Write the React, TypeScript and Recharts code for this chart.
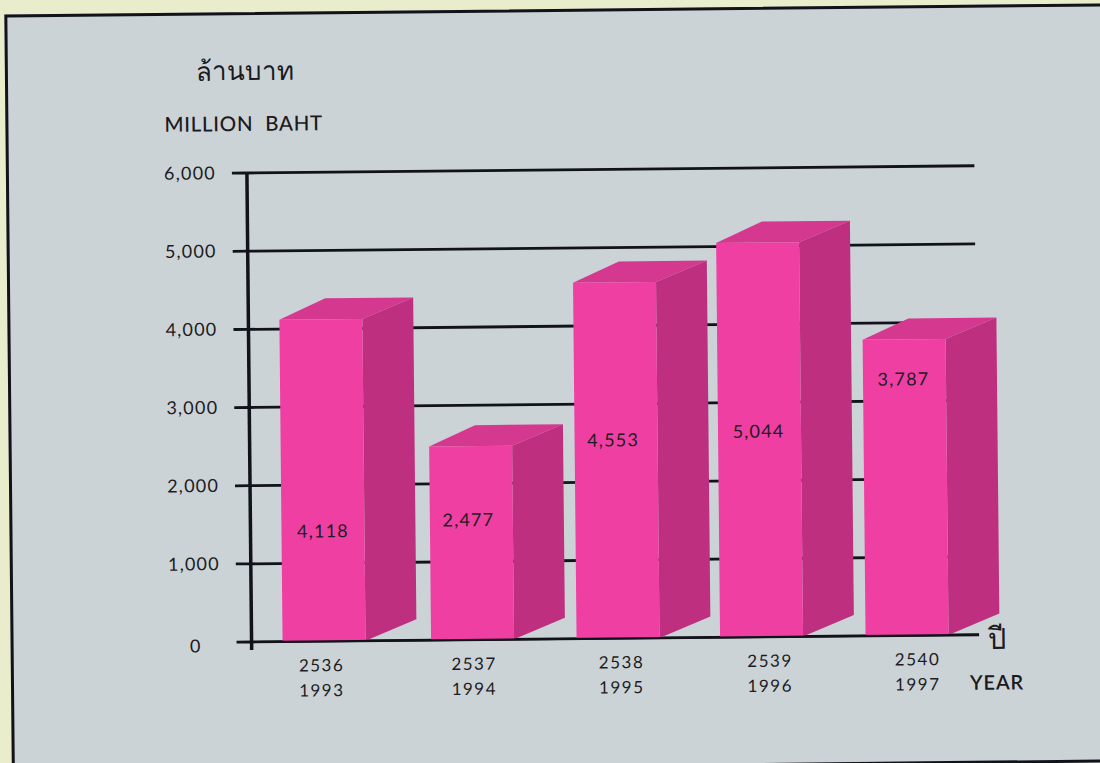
import React from 'react';
import { BarChart, Bar, XAxis, YAxis, CartesianGrid } from 'recharts';

const buddhistYears = ['2536', '2537', '2538', '2539', '2540'];
const christianYears = ['1993', '1994', '1995', '1996', '1997'];
const budget = [4118, 2477, 4553, 5044, 3787];
const yTicks = [0, 1000, 2000, 3000, 4000, 5000, 6000];

const chartData = budget.map((value, i) => ({
  year: buddhistYears[i],
  alt: christianYears[i],
  value,
}));

// the printed bars and captions are not evenly placed, these follow the scan
const labelDrop = [212, 74, 158, 189, 40];
const barNudge = [0, 3, 3, 1, 1];
const yearNudge = [-3, 4, 6, 9, 11];
const DEPTH_X = 51;
const DEPTH_Y = 21;
const tickFont = 'Lato, "Noto Sans", sans-serif';

const formatValue = (v: number) => new Intl.NumberFormat('en-US').format(v);

const Box3D = (props: any) => {
  const { y, width, height, index, value } = props;
  const x = props.x + barNudge[index];
  const right = x + width;
  const bottom = y + height;
  return (
    <g>
      <polygon
        points={`${x},${y} ${x + DEPTH_X - 5},${y - DEPTH_Y} ${right + DEPTH_X},${y - DEPTH_Y} ${right},${y}`}
        fill="#d4398f"
      />
      <polygon
        points={`${right},${y} ${right + DEPTH_X},${y - DEPTH_Y} ${right + DEPTH_X},${bottom - DEPTH_Y} ${right},${bottom}`}
        fill="#bf2f80"
      />
      <rect x={x} y={y} width={width} height={height} fill="#f03fa3" />
      <text
        x={props.x + width / 2}
        y={y + labelDrop[index] + 6}
        textAnchor="middle"
        fontFamily={tickFont}
        fontSize={18}
        letterSpacing={1.2}
        fill="#1c1c22"
      >
        {formatValue(Array.isArray(value) ? value[1] : value)}
      </text>
    </g>
  );
};

const ValueTick = (props: any) => {
  const { x, y, payload } = props;
  const isZero = payload.value === 0;
  return (
    <g>
      {isZero && <line x1={x + 31} x2={x + 31} y1={y} y2={y + 8} stroke="#12121a" strokeWidth={3.5} />}
      <text
        x={isZero ? x - 19 : x}
        y={y + (isZero ? 10 : 6)}
        textAnchor="end"
        fontFamily={tickFont}
        fontSize={18}
        letterSpacing={1.2}
        fill="#1c1c22"
      >
        {formatValue(payload.value)}
      </text>
    </g>
  );
};

const YearTick = (props: any) => {
  const { x, y, payload, index } = props;
  const cx = x + yearNudge[index];
  return (
    <g fontFamily={tickFont} fontSize={17} letterSpacing={1.5} fill="#1c1c22" textAnchor="middle">
      <text x={cx} y={y + 22}>{payload.value}</text>
      <text x={cx} y={y + 47}>{christianYears[index]}</text>
    </g>
  );
};

const caption = (left: number, top: number, size: number, family: string, weight = 400, spacing = 0): React.CSSProperties => ({
  position: 'absolute',
  left,
  top,
  fontSize: size,
  fontFamily: family,
  fontWeight: weight,
  letterSpacing: spacing,
  color: '#1a1a20',
  lineHeight: 1,
  whiteSpace: 'pre',
});

export default function App() {
  return (
    <div style={{ position: 'absolute', left: 0, top: 0, width: 1100, height: 763, overflow: 'hidden', background: '#e9edcb' }}>
      <div style={{ position: 'absolute', left: 0, top: 0, width: 1100, height: 763, transform: 'rotate(-0.57deg)' }}>
        <div
          style={{
            position: 'absolute',
            left: 8,
            top: 9,
            width: 1130,
            height: 753,
            background: '#ccd3d7',
            border: '3px solid #12121a',
          }}
        />
        <div style={caption(199, 54, 26, '"Noto Sans", "DejaVu Sans", sans-serif', 300)}>ล้านบาท</div>
        <div style={caption(167, 110, 20.5, 'Lato, sans-serif', 500, 0.7)}>MILLION  BAHT</div>
        <div style={caption(985, 627, 29, '"Noto Sans", "DejaVu Sans", sans-serif', 300)}>ปี</div>
        <div style={caption(967, 676, 20, 'Lato, sans-serif', 600, 0.8)}>YEAR</div>
        <div style={{ position: 'absolute', left: 0, top: 0 }}>
          <BarChart
            width={1100}
            height={763}
            data={chartData}
            margin={{ top: 170, right: 123.5, bottom: 0, left: 189 }}
          >
            <CartesianGrid vertical={false} stroke="#12121a" strokeWidth={2.8} />
            <XAxis
              dataKey="year"
              height={124}
              axisLine={{ stroke: '#12121a', strokeWidth: 2 }}
              tickLine={false}
              tick={<YearTick />}
              interval={0}
            />
            <YAxis
              width={60}
              domain={[0, 6000]}
              ticks={yTicks}
              axisLine={{ stroke: '#12121a', strokeWidth: 3.5 }}
              tickLine={{ stroke: '#12121a', strokeWidth: 2.8 }}
              tickSize={15}
              tickMargin={16}
              tick={<ValueTick />}
            />
            <Bar dataKey="value" barSize={83} isAnimationActive={false} shape={<Box3D />} />
          </BarChart>
        </div>
      </div>
    </div>
  );
}
